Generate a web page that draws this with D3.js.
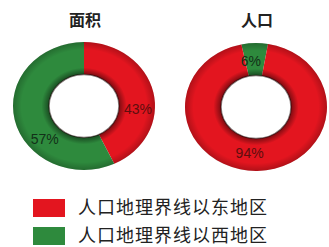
<!DOCTYPE html>
<html lang="zh">
<head>
<meta charset="utf-8">
<script src="https://d3js.org/d3.v7.min.js"></script>
<style>
  body { margin: 0; background: #fff; }
  svg { display: block; }
</style>
</head>
<body>
<div id="chart"></div>
<script>
// data
const charts = ["面积", "人口"];
const categories = ["人口地理界线以东地区", "人口地理界线以西地区"];
const areaValues = [43, 57];   // east, west
const popValues = [94, 6];     // east, west
const colors = ["#e3151f", "#2e8a3d"];

const W = 329, H = 247;
const svg = d3.select("#chart").append("svg").attr("width", W).attr("height", H);

const outerR = 71, innerR = 35, squash = 0.9;
const arc = d3.arc().innerRadius(innerR).outerRadius(outerR);

// soft shading across the ring, a faint 3D look
const defs = svg.append("defs");
const shade = defs.append("radialGradient").attr("id", "shade")
  .attr("gradientUnits", "userSpaceOnUse")
  .attr("cx", 0).attr("cy", 0).attr("r", outerR);
[[innerR / outerR, 0.45], [0.6, 0.0], [0.88, 0.0], [1, 0.22]].forEach(s => {
  shade.append("stop").attr("offset", s[0]).attr("stop-color", "#000").attr("stop-opacity", s[1]);
});

const donuts = [
  { title: charts[0], values: areaValues, cx: 84, cy: 106, start: 0,
    labelAngle: [0.26, 0.63], labelR: 54, order: [0, 1] },
  { title: charts[1], values: popValues, cx: 256, cy: 107, start: -0.033,
    labelAngle: [0.52, -0.016], labelR: 51, order: [1, 0] }
];

donuts.forEach(d => {
  const data = d.order.map(i => ({ v: d.values[i], c: i }));
  const pie = d3.pie().sort(null).value(e => e.v)
    .startAngle(d.start * 2 * Math.PI).endAngle((d.start + 1) * 2 * Math.PI);

  const g = svg.append("g").attr("transform", `translate(${d.cx},${d.cy}) scale(1,${squash})`);

  g.selectAll("path.slice").data(pie(data)).join("path")
    .attr("class", "slice")
    .attr("d", arc)
    .attr("fill", e => colors[e.data.c]);

  // shading ring on top
  g.append("path")
    .attr("d", arc({ startAngle: 0, endAngle: 2 * Math.PI }))
    .attr("fill", "url(#shade)");
  g.append("circle").attr("r", innerR).attr("fill", "#fff")
    .attr("stroke", "#1a0505").attr("stroke-opacity", 0.55).attr("stroke-width", 1.5);

  // percentage labels
  const lab = svg.append("g").attr("transform", `translate(${d.cx},${d.cy})`);
  d.values.forEach((v, i) => {
    const a = d.labelAngle[i] * 2 * Math.PI;
    lab.append("text")
      .attr("x", d.labelR * Math.sin(a))
      .attr("y", -d.labelR * Math.cos(a) * squash)
      .attr("dy", "0.36em")
      .attr("text-anchor", "middle")
      .attr("font-family", "Liberation Sans, Arial, sans-serif")
      .attr("font-size", 14)
      .attr("fill", i === 0 ? "#5e0e0e" : "#123018")
      .text(v + "%");
  });

  svg.append("text")
    .attr("x", d.cx + 1).attr("y", 26)
    .attr("text-anchor", "middle")
    .attr("font-family", "Noto Sans CJK SC, sans-serif")
    .attr("font-weight", "bold")
    .attr("font-size", 16)
    .attr("fill", "#222")
    .text(d.title);
});

// legend
const legend = svg.append("g").attr("transform", "translate(33,199)");
categories.forEach((c, i) => {
  const row = legend.append("g").attr("transform", `translate(0,${i * 28})`);
  row.append("rect").attr("width", 32).attr("height", 18).attr("fill", colors[i]);
  row.append("text").attr("x", 45).attr("y", 9).attr("dy", "0.36em")
    .attr("font-family", "Noto Sans CJK SC, sans-serif")
    .attr("font-size", 18).attr("letter-spacing", 1).attr("fill", "#222")
    .text(c);
});
</script>
</body>
</html>
